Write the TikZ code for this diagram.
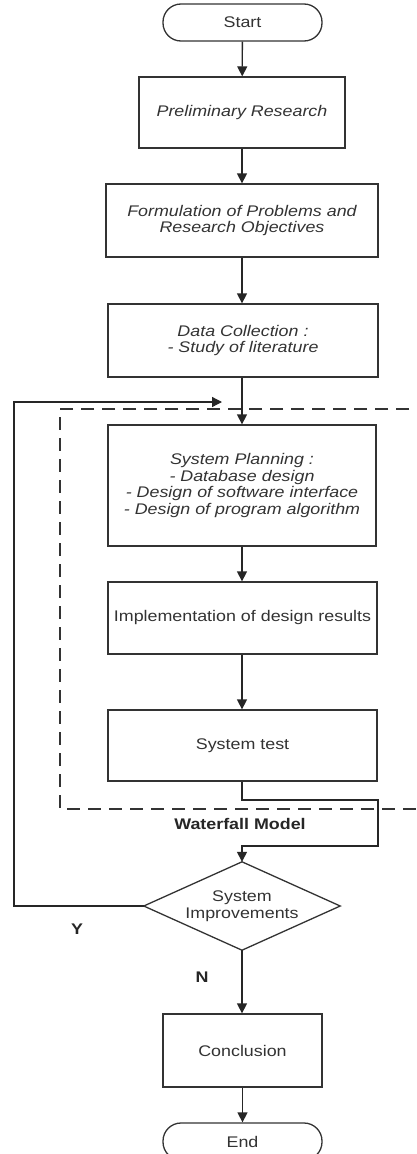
\documentclass[tikz,border=0pt]{standalone}
\usepackage{fontspec}
\setmainfont{Liberation Sans}[FakeStretch=1.16]
\usetikzlibrary{arrows.meta}
\begin{document}
\begin{tikzpicture}[x=1pt,y=-1pt,
  every node/.style={font=\fontsize{15.4}{16.7}\selectfont, text=black!80, align=center, inner sep=0pt},
  box/.style={draw=black!80, line width=1.3pt, rectangle},
  term/.style={draw=black!80, line width=1.3pt, rectangle, rounded corners=18pt, minimum width=159pt, minimum height=37pt},
  dec/.style={rectangle, minimum width=196pt, minimum height=88pt},
  decline/.style={draw=black!80, line width=1.3pt, line join=miter},
  conn/.style={draw=black!85, line width=1.3pt},
  arr/.style={conn, -{Triangle[length=10pt,width=10pt]}},
  lbl/.style={font=\fontsize{15.4}{16.7}\selectfont\bfseries, text=black!85},
  wf/.style={draw=black!80, line width=1.4pt, dash pattern=on 13pt off 8pt}]
\clip (0,0) rectangle (416,1154);
\fill[white] (0,0) rectangle (416,1154);

\node[term] (start) at (242.5,22.5) {Start};
\node[box, minimum width=206pt, minimum height=71pt] (prelim) at (242,112.5) {\itshape Preliminary Research};
\node[box, minimum width=272pt, minimum height=73pt] (formul) at (242,220.5) {\itshape Formulation of Problems and\\\itshape Research Objectives};
\node[box, minimum width=270pt, minimum height=73pt] (datacol) at (243,340.5) {\itshape Data Collection :\\\itshape - Study of literature};
\node[box, minimum width=268pt, minimum height=121pt] (plan) at (242,485.5) {\itshape System Planning :\\\itshape - Database design\\\itshape - Design of software interface\\\itshape - Design of program algorithm};
\node[box, minimum width=269pt, minimum height=72pt] (impl) at (242.5,618) {Implementation of design results};
\node[box, minimum width=269pt, minimum height=71pt] (test) at (242.5,745.5) {System test};
\node[dec] (dia) at (242,906) {System\\Improvements};
\draw[decline] (dia.north) -- (dia.east) -- (dia.south) -- (dia.west) -- cycle;
\node[box, minimum width=159pt, minimum height=73pt] (concl) at (242.5,1050.5) {Conclusion};
\node[term] (end) at (242.5,1141.5) {End};

\draw[wf] (430,409) -- (60,409) -- (60,809) -- (430,809);
\node[lbl] (wflabel) at (240,824) {Waterfall Model};
\node[lbl] (ylabel) at (77,929) {Y};
\node[lbl] (nlabel) at (202,977) {N};

\draw[arr] (start) -- (prelim);
\draw[arr] (prelim) -- (formul);
\draw[arr] (formul) -- (datacol.north -| formul.south);
\draw[arr] (datacol.south -| plan.north) -- (plan);
\draw[arr] (plan) -- (impl.north -| plan.south);
\draw[arr] (impl.south -| plan.south) -- (test.north -| plan.south);

\coordinate (t1) at (242,800);
\coordinate (t2) at (378,800);
\coordinate (t3) at (378,846);
\coordinate (t4) at (242,846);
\draw[arr] (test.south -| t1) -- (t1) -- (t2) -- (t3) -- (t4) -- (dia.north);

\coordinate (l1) at (14,906);
\coordinate (l2) at (14,402);
\coordinate (l3) at (222,402);
\draw[arr] (dia.west) -- (l1) -- (l2) -- (l3);

\draw[arr] (dia.south) -- (concl.north -| dia.south);
\draw[arr] (concl) -- (end);
\end{tikzpicture}
\end{document}
